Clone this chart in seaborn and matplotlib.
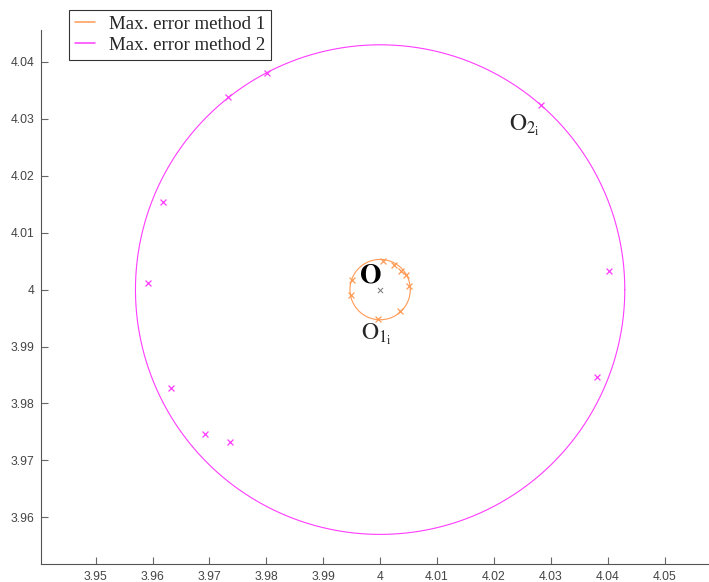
import numpy as np
import pandas as pd
import matplotlib
matplotlib.use("Agg")
import matplotlib.pyplot as plt
import seaborn as sns

# Reference point and the two maximum-error circles
center = (4.0, 4.0)
radius_method1 = 0.0053
radius_method2 = 0.0430

# Points O_1i (method 1)
o1_x = [4.0005, 4.0025, 4.0037, 4.0046, 4.0051, 4.0035, 3.9996, 3.9951, 3.9949]
o1_y = [4.0050, 4.0044, 4.0033, 4.0025, 4.0006, 3.9963, 3.9949, 4.0016, 3.9991]

# Points O_2i (method 2)
o2_x = [3.9732, 3.9802, 4.0282, 3.9618, 3.9592, 3.9632, 3.9692, 3.9737, 4.0403, 4.0382]
o2_y = [4.0339, 4.0381, 4.0325, 4.0153, 4.0011, 3.9828, 3.9747, 3.9732, 4.0032, 3.9846]

x_ticks = [3.95, 3.96, 3.97, 3.98, 3.99, 4.00, 4.01, 4.02, 4.03, 4.04, 4.05]
x_tick_labels = ["3.95", "3.96", "3.97", "3.98", "3.99", "4", "4.01", "4.02", "4.03", "4.04", "4.05"]
y_ticks = [3.96, 3.97, 3.98, 3.99, 4.00, 4.01, 4.02, 4.03, 4.04]
y_tick_labels = ["3.96", "3.97", "3.98", "3.99", "4", "4.01", "4.02", "4.03", "4.04"]

legend_labels = ["Max. error method 1", "Max. error method 2"]

orange = "#FF9A55"
magenta = "#FF3CFF"

sns.set_style("white")
plt.rcParams["mathtext.fontset"] = "stix"

fig = plt.figure(figsize=(7.09, 5.82), dpi=100)
ax = fig.add_axes([41 / 709, 1 - 564 / 582, 668 / 709, 534 / 582])

theta = np.linspace(0, 2 * np.pi, 400)
for r, lab, col in zip([radius_method1, radius_method2], legend_labels, [orange, magenta]):
    circle = pd.DataFrame({"x": center[0] + r * np.cos(theta),
                           "y": center[1] + r * np.sin(theta)})
    sns.lineplot(data=circle, x="x", y="y", sort=False, estimator=None,
                 color=col, linewidth=0.8, label=lab, ax=ax)

sns.scatterplot(x=o1_x, y=o1_y, marker="x", color=orange, s=18, linewidth=0.9, ax=ax)
sns.scatterplot(x=o2_x, y=o2_y, marker="x", color=magenta, s=18, linewidth=0.9, ax=ax)
sns.scatterplot(x=[center[0]], y=[center[1]], marker="x", color="#777777", s=14,
                linewidth=0.7, ax=ax)

ax.text(3.9982, 4.0026, r"$\mathbf{O}$", fontsize=20, ha="center", va="center", color="black")
ax.text(3.9993, 3.9922, r"$\mathrm{O}_{1_\mathrm{i}}$", fontsize=17, ha="center", va="center")
ax.text(4.0253, 4.0288, r"$\mathrm{O}_{2_\mathrm{i}}$", fontsize=17, ha="center", va="center")

ax.set_xlim(3.9404, 4.0578)
ax.set_ylim(3.9518, 4.0456)
ax.set_xticks(x_ticks)
ax.set_xticklabels(x_tick_labels)
ax.set_yticks(y_ticks)
ax.set_yticklabels(y_tick_labels)
ax.set_xlabel("")
ax.set_ylabel("")

for side in ["top", "right"]:
    ax.spines[side].set_visible(False)
for side in ["left", "bottom"]:
    ax.spines[side].set_color("#555555")
    ax.spines[side].set_linewidth(0.8)
ax.tick_params(axis="both", which="major", bottom=True, left=True, direction="in",
               length=5, width=0.8, color="#666666", labelsize=8.7,
               labelcolor="#444444", pad=5)
for lbl in ax.get_xticklabels() + ax.get_yticklabels():
    lbl.set_fontfamily("Liberation Sans")

handles, labels = ax.get_legend_handles_labels()
if ax.get_legend() is not None:
    ax.get_legend().remove()
leg = fig.legend(handles[:2], labels[:2], loc="upper left",
                 bbox_to_anchor=(69 / 709, 1 - 10 / 582), borderaxespad=0,
                 frameon=True, fancybox=False, edgecolor="black", handlelength=1.1,
                 handletextpad=0.7, borderpad=0.3, labelspacing=0.2,
                 prop={"family": "Liberation Serif", "size": 13.6})
leg.get_frame().set_linewidth(0.8)
for line in leg.get_lines():
    line.set_linewidth(1.1)

fig.savefig("out.png", dpi=100)
